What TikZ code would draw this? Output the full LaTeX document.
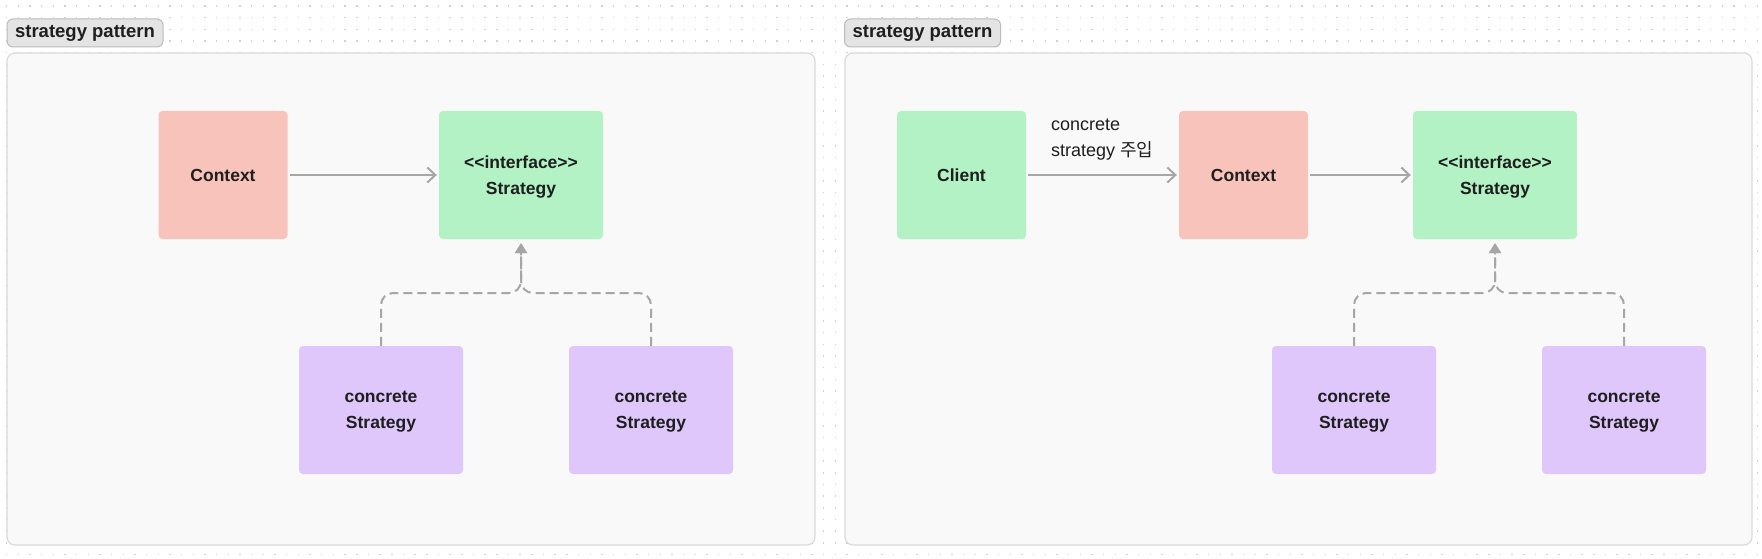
\documentclass[tikz,border=0pt]{standalone}
\usepackage{fontspec}
\setmainfont{Liberation Sans}
\newfontfamily\krfont{Noto Sans CJK KR}
\usetikzlibrary{arrows.meta,calc}
\definecolor{pinkc}{HTML}{F8C3BB}
\definecolor{greenc}{HTML}{B2F2C4}
\definecolor{purplec}{HTML}{DFC6FB}
\definecolor{panelbg}{HTML}{F9F9F9}
\definecolor{panelln}{HTML}{DADADA}
\definecolor{badgebg}{HTML}{E4E4E4}
\definecolor{badgeln}{HTML}{BBBBBB}
\definecolor{arrowc}{HTML}{A6A6A6}
\definecolor{txt}{HTML}{1E1E1E}
\definecolor{dotc}{HTML}{D0D0D0}
\begin{document}
\begin{tikzpicture}[x=1pt,y=-1pt,
  box/.style={rounded corners=4pt, minimum height=128pt, inner sep=0pt, align=center,
    font=\fontsize{17.5}{25.5}\selectfont\bfseries, text=txt},
  twoline/.style={text depth=-4pt},
  narrowbox/.style={box, minimum width=129pt},
  widebox/.style={box, minimum width=164pt},
  panel/.style={draw=panelln, fill=panelbg, line width=1.2pt, rounded corners=8pt, inner sep=0pt},
  badge/.style={draw=badgeln, fill=badgebg, line width=1pt, rounded corners=6pt, inner sep=0pt,
    minimum width=156pt, minimum height=28pt, font=\fontsize{18.5}{20}\selectfont\bfseries, text=txt},
  solidarrow/.style={draw=arrowc, line width=2pt, -{Straight Barb[length=8pt,width=15pt]},
    shorten <=2pt, shorten >=2pt},
  dasharrow/.style={draw=arrowc, line width=2pt, dash pattern=on 9pt off 5pt, rounded corners=12pt,
    -{Triangle[length=10pt,width=12pt]}, shorten >=4pt},
  lbl/.style={align=left, inner sep=0pt, font=\fontsize{18}{26}\selectfont, text=txt}
]
\useasboundingbox (0,0) rectangle (1762,559);
\fill[white] (0,0) rectangle (1762,559);
% dotted background
\foreach \r in {0,...,47}
  \draw[dotc, line width=1.4pt, dash pattern=on 1.4pt off 10.27pt] (6,{6+11.67*\r}) -- (1762,{6+11.67*\r});

% panels
\node[panel, minimum width=808pt, minimum height=492pt] (p1) at (411,299) {};
\node[panel, minimum width=907pt, minimum height=492pt] (p2) at (1298.5,299) {};
\node[badge] (b1) at (85,33) {strategy pattern};
\node[badge] (b2) at (922.5,33) {strategy pattern};

% left diagram
\node[narrowbox, fill=pinkc] (ctx1) at (223,175) {Context};
\node[widebox, twoline, fill=greenc] (if1) at (521,175) {{<}{<}interface{>}{>}\\Strategy};
\node[widebox, twoline, fill=purplec] (cs1) at (381,410) {concrete\\Strategy};
\node[widebox, twoline, fill=purplec] (cs2) at (651,410) {concrete\\Strategy};
\draw[solidarrow] (ctx1.east) -- (if1.west);
\coordinate (m1) at (if1.south |- 0,293);
\draw[dasharrow] (cs1.north) |- (m1) -- (if1.south);
\draw[dasharrow] (cs2.north) |- (m1) -- (if1.south);

% right diagram
\node[narrowbox, fill=greenc] (cl) at (961.5,175) {Client};
\node[narrowbox, fill=pinkc] (ctx2) at (1243.5,175) {Context};
\node[widebox, twoline, fill=greenc] (if2) at (1495,175) {{<}{<}interface{>}{>}\\Strategy};
\node[widebox, twoline, fill=purplec] (cs3) at (1354,410) {concrete\\Strategy};
\node[widebox, twoline, fill=purplec] (cs4) at (1624,410) {concrete\\Strategy};
\draw[solidarrow] (cl.east) -- (ctx2.west);
\draw[solidarrow] (ctx2.east) -- (if2.west);
\node[lbl, anchor=west] (lab) at (1051,140) {concrete\\strategy {\krfont 주입}};
\coordinate (m2) at (if2.south |- 0,293);
\draw[dasharrow] (cs3.north) |- (m2) -- (if2.south);
\draw[dasharrow] (cs4.north) |- (m2) -- (if2.south);
\end{tikzpicture}
\end{document}
